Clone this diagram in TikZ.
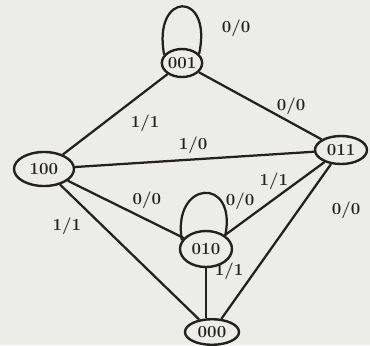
\documentclass[tikz,border=0pt]{standalone}
\usepackage{tikz}
\usetikzlibrary{shapes.geometric, positioning, calc}
\definecolor{paper}{RGB}{236, 236, 233}
\definecolor{ink}{RGB}{35, 32, 30}

\tikzset{
    state/.style={ellipse, draw=ink, line width=1.7pt, inner sep=0pt,
                  font=\large\bfseries, text=ink},
    trans/.style={draw=ink, line width=1.6pt},
    lbl/.style={font=\large\bfseries, text=ink, inner sep=1pt}
}

\begin{document}
\begin{tikzpicture}[x=0.025cm, y=-0.025cm]
            % page with the reference's margins
            \fill[paper] (0,0) rectangle (370,345);
            \useasboundingbox (0,0) rectangle (370,345);

            % states
            \node[state, minimum width=1.0cm, minimum height=0.7cm] (s001) at (182,63) {001};
            \node[state, minimum width=1.5cm, minimum height=0.85cm] (s100) at (44,169) {100};
            \node[state, minimum width=1.3cm, minimum height=0.7cm] (s011) at (341,150) {011};
            \node[state, minimum width=1.3cm, minimum height=0.9cm] (s010) at (206,249) {010};
            \node[state, minimum width=1.35cm, minimum height=0.64cm] (s000) at (212,332) {000};

            % transitions
            \draw[trans] (s001.155) .. controls +(-12,-64) and +(14,-64) .. (s001.28);
            \draw[trans] (s010.160) .. controls +(-10,-60) and +(12,-60) .. (s010.35);
            \draw[trans] (s001) -- (s100);
            \draw[trans] (s001) -- (s011);
            \draw[trans] (s100) -- (s011);
            \draw[trans] (s100) -- (s010);
            \draw[trans] (s100) -- (s000);
            \draw[trans] (s011) -- (s010);
            \draw[trans] (s011) -- (s000);
            \draw[trans] (s010.south) -- (s010.south |- s000.north);

            % input/output labels
            \node[lbl] (l1) at (236,28) {0/0};
            \node[lbl] (l2) at (291,106) {0/0};
            \node[lbl] (l3) at (145,123) {1/1};
            \node[lbl] (l4) at (193,145) {1/0};
            \node[lbl] (l5) at (274,181) {1/1};
            \node[lbl] (l6) at (240,201) {0/0};
            \node[lbl] (l7) at (147,200) {0/0};
            \node[lbl] (l8) at (346,210) {0/0};
            \node[lbl] (l9) at (67,226) {1/1};
            \node[lbl] (l10) at (229,271) {1/1};
        \end{tikzpicture}
\end{document}
